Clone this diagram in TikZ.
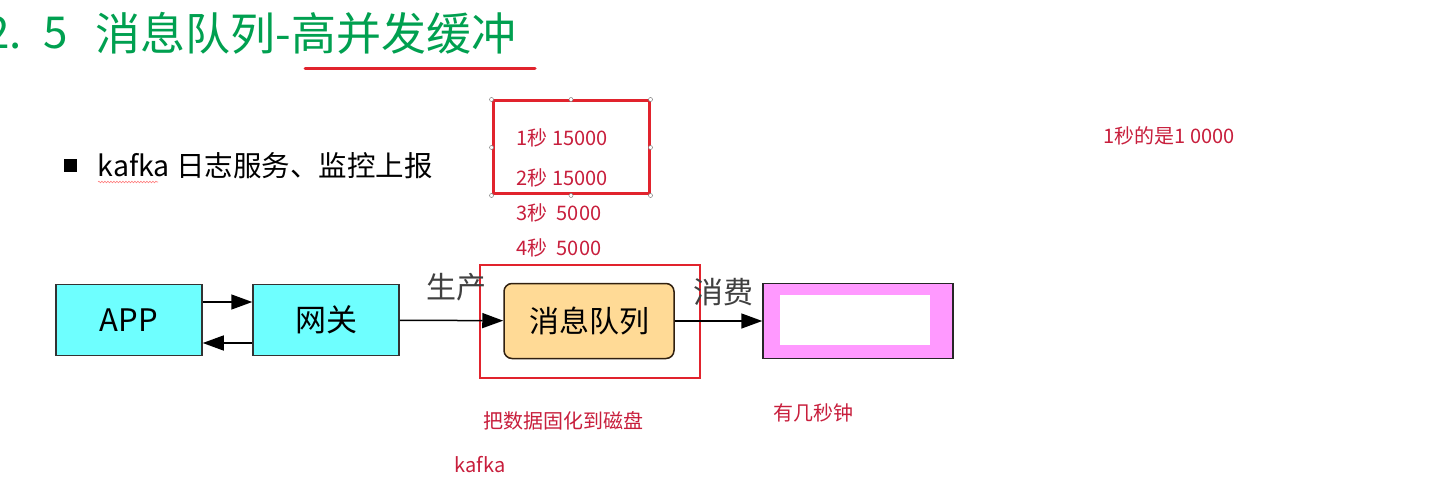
\documentclass[tikz,border=0pt]{standalone}
\usepackage{fontspec}
\setmainfont{Noto Sans CJK SC}
\usetikzlibrary{arrows.meta,positioning,decorations.pathmorphing}
\definecolor{appcyan}{RGB}{110,255,255}
\definecolor{mqfill}{RGB}{255,218,150}
\definecolor{sinkpink}{RGB}{255,153,255}
\definecolor{notered}{RGB}{200,30,60}
\definecolor{framered}{RGB}{225,35,45}
\definecolor{titlegreen}{RGB}{0,160,80}

\begin{document}
\begin{tikzpicture}[x=1pt,y=-1pt,->,>={Triangle[length=21pt,width=15pt]},line width=1.5pt,
                    box/.style={draw=black!80,fill=appcyan,minimum width=146pt,minimum height=71pt,font=\fontsize{31}{33}\selectfont},
                    mq node/.style={draw=black!75!brown,fill=mqfill,rounded corners=8pt,minimum width=170pt,minimum height=75pt,font=\fontsize{30}{32}\selectfont},
                    note/.style={text=notered,font=\fontsize{20}{23}\selectfont,inner sep=0pt},
                    label node/.style={text=black!75,font=\fontsize{30}{32}\selectfont,inner sep=0pt}]
  \useasboundingbox[fill=white] (0,0) rectangle (1431,494);

  % heading
  \node[anchor=east,text=titlegreen,font=\fontsize{45}{50}\selectfont,inner sep=0pt] (title) at (517,33) {消息队列-高并发缓冲};
  \node[left=26pt of title,text=titlegreen,font=\fontsize{44}{50}\selectfont,inner sep=0pt] (num) {2.\,\,\,5};
  \draw[-,framered,line width=3pt,line cap=round] (305,69) -- (535,69);

  % bullet line
  \node[fill=black,minimum size=13pt,inner sep=0pt] (bul) at (70,166) {};
  \node[anchor=west,font=\fontsize{28.5}{31}\selectfont,inner sep=0pt] (usage) at (97,166) {kafka 日志服务、监控上报};
  \draw[-,red!50,line width=0.6pt,decorate,decoration={snake,amplitude=0.8pt,segment length=3pt}] (98,182) -- (158,182);

  % peak numbers
  \node[draw=framered,line width=3pt,minimum width=156pt,minimum height=93pt] (peak) at (571,147.5) {};
  \foreach \a in {north west,north,north east,east,south east,south,south west,west}
    \filldraw[line width=0.5pt,draw=gray,fill=white] (peak.\a) circle (2pt);
  \node[note,anchor=west] (s1) at (516,138) {1秒 15000};
  \node[note,anchor=west] (s2) at (516,178) {2秒 15000};
  \node[note,anchor=west] (s3) at (516,213) {3秒\ \ 5000};
  \node[note,anchor=west] (s4) at (516,248) {4秒\ \ 5000};
  \node[note,anchor=west] (rate) at (1103,136) {1秒的是1 0000};

  % flow
  \node[box] (app) at (129,320) {APP};
  \node[box] (gw) at (326,320) {网关};
  \node[draw=framered,minimum width=220pt,minimum height=113pt] (disk) at (590,321.5) {};
  \node[mq node] (mq) at (589,321) {消息队列};
  \node[draw=black!85,fill=sinkpink,minimum width=190pt,minimum height=75pt] (sink) at (858,321) {};
  \node[fill=white,minimum width=150pt,minimum height=50pt,inner sep=0pt] (sinkin) at (855,320) {};

  \node[label node] (prod) at (456,287) {生产};
  \node[label node] (cons) at (723,292) {消费};

  \path
    ([yshift=18pt]app.east) edge ([yshift=18pt]gw.west)
    ([yshift=-23pt]gw.west) edge ([yshift=-23pt]app.east)
    (gw) edge (mq)
    (mq) edge (sink)
    ;

  % notes below
  \node[note] (persist) at (563,421) {把数据固化到磁盘};
  \node[note] (secs) at (813,413) {有几秒钟};
  \node[note] (kafka) at (480,465) {kafka};
\end{tikzpicture}
\end{document}
